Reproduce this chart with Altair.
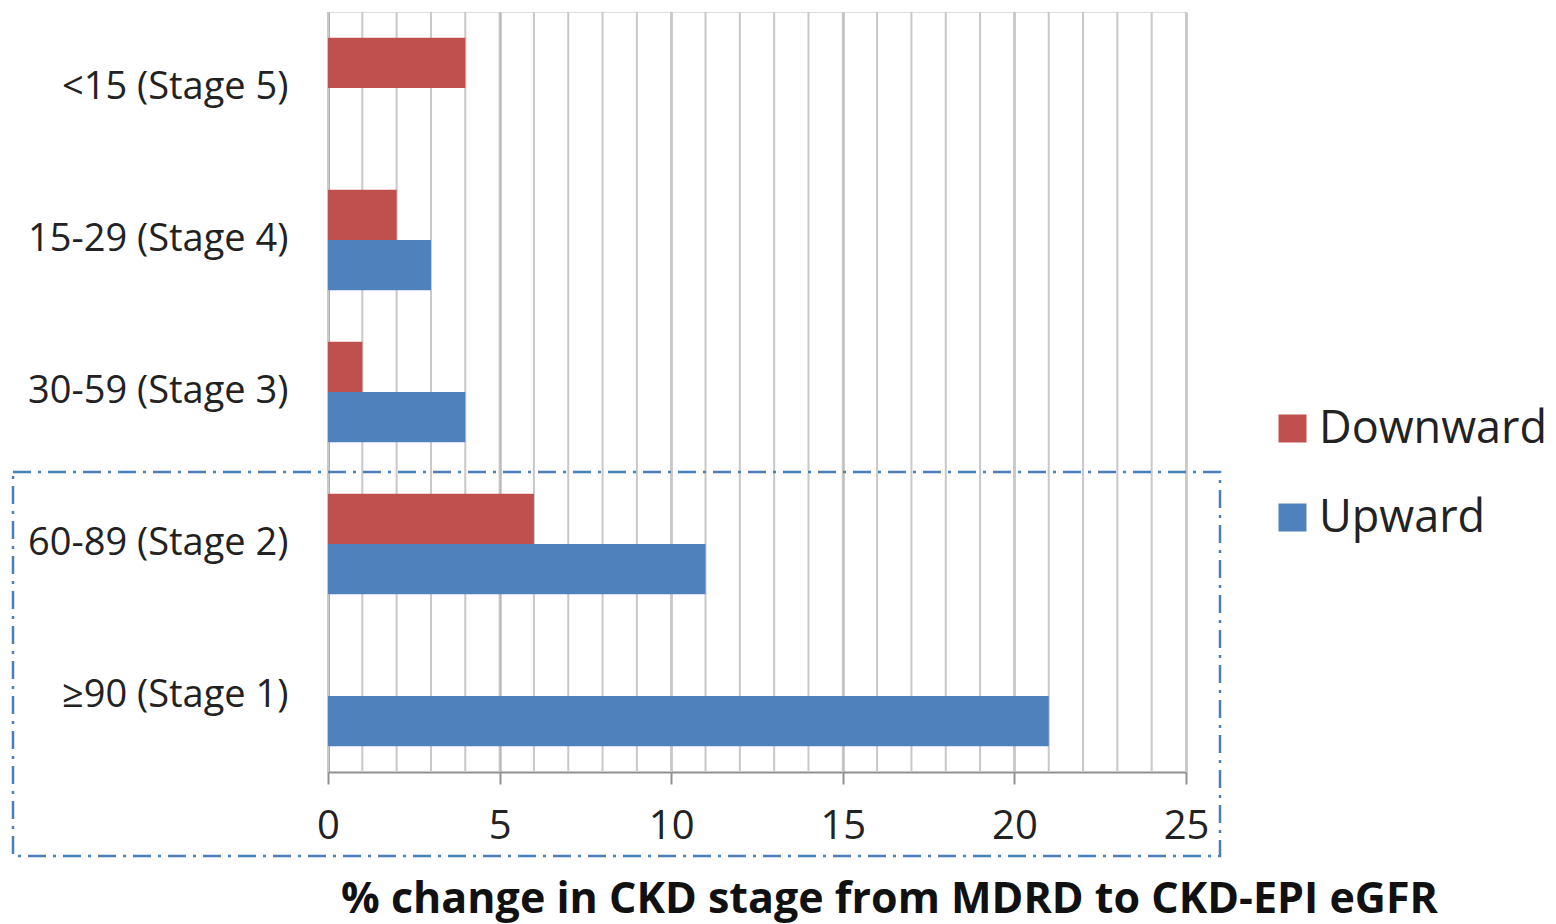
import altair as alt
import pandas as pd

categories = ["<15 (Stage 5)", "15-29 (Stage 4)", "30-59 (Stage 3)", "60-89 (Stage 2)", "≥90 (Stage 1)"]
downward = [4, 2, 1, 6, 0]
upward = [0, 3, 4, 11, 21]
series = ["Downward", "Upward"]
colors = ["#C0504D", "#4F81BD"]
major_ticks = [0, 5, 10, 15, 20, 25]
minor_ticks = list(range(0, 26))

rows = []
for c, d, u in zip(categories, downward, upward):
    rows.append({"stage": c, "series": "Downward", "value": d})
    rows.append({"stage": c, "series": "Upward", "value": u})
df = pd.DataFrame(rows)

W, H = 858, 760
FONT = "Open Sans"

xscale = alt.Scale(domain=[0, 25], nice=False)

grid = alt.Chart(pd.DataFrame({"v": minor_ticks})).mark_rule(
    color="#c8c8c8", strokeWidth=2
).encode(
    x=alt.X("v:Q", scale=xscale),
    y=alt.value(0),
    y2=alt.value(H),
)

bars = alt.Chart(df).mark_bar().encode(
    x=alt.X(
        "value:Q",
        scale=xscale,
        axis=alt.Axis(
            values=major_ticks,
            grid=True,
            gridColor="#a0a0a0",
            gridWidth=2,
            ticks=True,
            tickSize=12,
            tickColor="#909090",
            tickWidth=2,
            domainColor="#909090",
            domainWidth=2,
            labelFont=FONT,
            labelFontSize=40,
            labelColor="#222222",
            labelPadding=22,
            labelFlush=False,
            title="% change in CKD stage from MDRD to CKD-EPI eGFR",
            titleFont=FONT,
            titleFontSize=43,
            titleFontWeight="bold",
            titleColor="#111111",
            titleX=561,
            titleY=140,
            titleAlign="center",
            titleBaseline="alphabetic",
        ),
    ),
    y=alt.Y(
        "stage:N",
        sort=categories,
        scale=alt.Scale(paddingInner=0.34, paddingOuter=0.17),
        axis=alt.Axis(
            title=None,
            ticks=False,
            domainColor="#909090",
            domainWidth=2,
            labelFont=FONT,
            labelFontSize=38,
            labelColor="#222222",
            labelPadding=40,
            labelLimit=400,
        ),
    ),
    yOffset=alt.YOffset("series:N", sort=series),
    color=alt.Color(
        "series:N",
        sort=series,
        scale=alt.Scale(domain=series, range=colors),
        legend=alt.Legend(
            title=None,
            orient="none",
            legendX=942,
            legendY=394,
            symbolType="square",
            symbolSize=784,
            symbolStrokeWidth=0,
            labelFont=FONT,
            labelFontSize=45,
            labelColor="#222222",
            labelOffset=4,
            rowPadding=43,
            labelLimit=400,
        ),
    ),
)

box = alt.Chart(pd.DataFrame({"a": [0]})).mark_rect(
    fill=None, stroke="#4a7ebb", strokeWidth=2.5, strokeDash=[18, 7, 3, 7]
).encode(
    x=alt.value(13 - 328),
    x2=alt.value(1220 - 328),
    y=alt.value(472 - 12),
    y2=alt.value(856 - 12),
)

chart = alt.layer(grid, bars, box).properties(
    width=W,
    height=H,
    padding={"left": 328, "top": 12, "right": 370, "bottom": 152},
    autosize="none",
).configure_view(stroke=None).configure(background="white")

chart.save("out.html", embed_options={"renderer": "svg", "actions": False})
